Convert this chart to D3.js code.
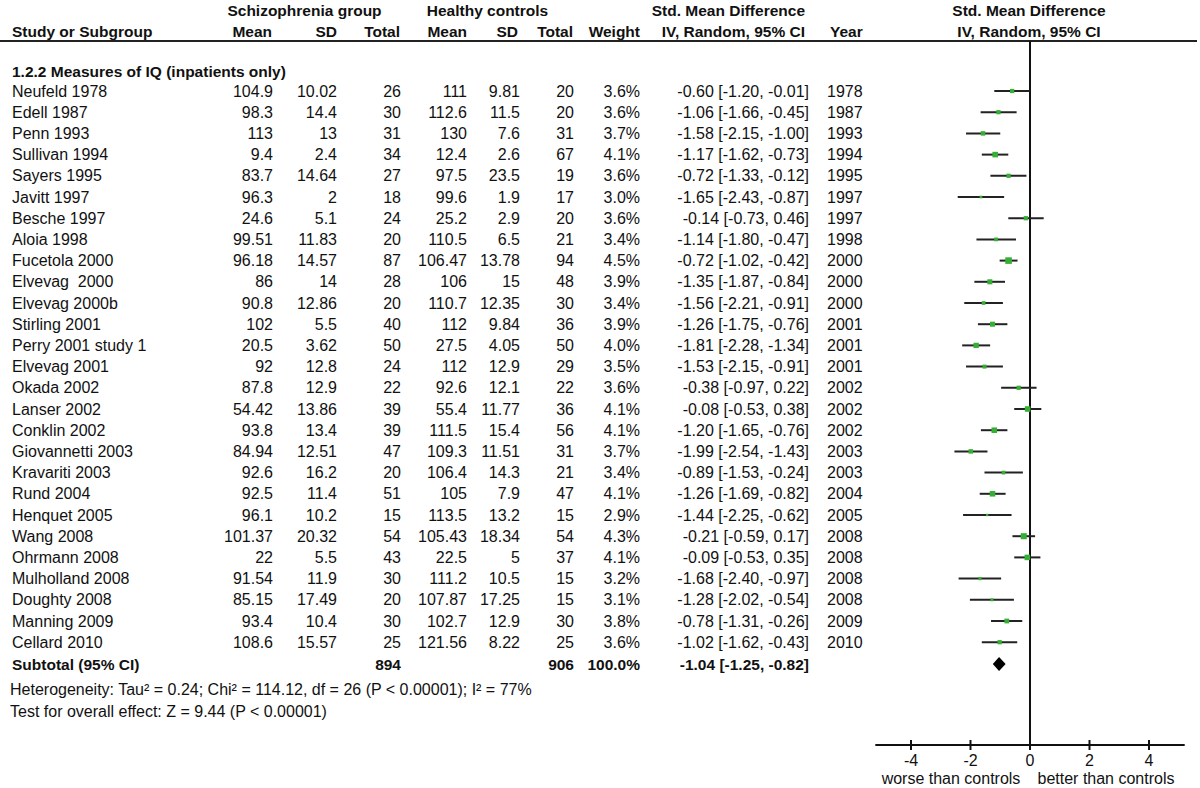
<!DOCTYPE html>
<html>
<head>
<meta charset="utf-8">
<script src="https://cdn.jsdelivr.net/npm/d3@7"></script>
<style>
  html, body { margin: 0; padding: 0; background: #fff; }
  svg { display: block; }
  text { font-family: "Liberation Sans", Arial, sans-serif; fill: #111; white-space: pre; }
  .b { font-weight: bold; }
</style>
</head>
<body>
<svg id="chart" width="1200" height="788"></svg>
<script>
// ---------------- data ----------------
const studies = ["Neufeld 1978","Edell 1987","Penn 1993","Sullivan 1994","Sayers 1995","Javitt 1997","Besche 1997","Aloia 1998","Fucetola 2000","Elvevag  2000","Elvevag 2000b","Stirling 2001","Perry 2001 study 1","Elvevag 2001","Okada 2002","Lanser 2002","Conklin 2002","Giovannetti 2003","Kravariti 2003","Rund 2004","Henquet 2005","Wang 2008","Ohrmann 2008","Mulholland 2008","Doughty 2008","Manning 2009","Cellard 2010"];
const years = [1978,1987,1993,1994,1995,1997,1997,1998,2000,2000,2000,2001,2001,2001,2002,2002,2002,2003,2003,2004,2005,2008,2008,2008,2008,2009,2010];
const szMean = [104.9,98.3,113,9.4,83.7,96.3,24.6,99.51,96.18,86,90.8,102,20.5,92,87.8,54.42,93.8,84.94,92.6,92.5,96.1,101.37,22,91.54,85.15,93.4,108.6];
const szSD = [10.02,14.4,13,2.4,14.64,2,5.1,11.83,14.57,14,12.86,5.5,3.62,12.8,12.9,13.86,13.4,12.51,16.2,11.4,10.2,20.32,5.5,11.9,17.49,10.4,15.57];
const szN = [26,30,31,34,27,18,24,20,87,28,20,40,50,24,22,39,39,47,20,51,15,54,43,30,20,30,25];
const hcMean = [111,112.6,130,12.4,97.5,99.6,25.2,110.5,106.47,106,110.7,112,27.5,112,92.6,55.4,111.5,109.3,106.4,105,113.5,105.43,22.5,111.2,107.87,102.7,121.56];
const hcSD = [9.81,11.5,7.6,2.6,23.5,1.9,2.9,6.5,13.78,15,12.35,9.84,4.05,12.9,12.1,11.77,15.4,11.51,14.3,7.9,13.2,18.34,5,10.5,17.25,12.9,8.22];
const hcN = [20,20,31,67,19,17,20,21,94,48,30,36,50,29,22,36,56,31,21,47,15,54,37,15,15,30,25];
const weights = [3.6,3.6,3.7,4.1,3.6,3.0,3.6,3.4,4.5,3.9,3.4,3.9,4.0,3.5,3.6,4.1,4.1,3.7,3.4,4.1,2.9,4.3,4.1,3.2,3.1,3.8,3.6];
const smd = [-0.60,-1.06,-1.58,-1.17,-0.72,-1.65,-0.14,-1.14,-0.72,-1.35,-1.56,-1.26,-1.81,-1.53,-0.38,-0.08,-1.20,-1.99,-0.89,-1.26,-1.44,-0.21,-0.09,-1.68,-1.28,-0.78,-1.02];
const ciLow = [-1.20,-1.66,-2.15,-1.62,-1.33,-2.43,-0.73,-1.80,-1.02,-1.87,-2.21,-1.75,-2.28,-2.15,-0.97,-0.53,-1.65,-2.54,-1.53,-1.69,-2.25,-0.59,-0.53,-2.40,-2.02,-1.31,-1.62];
const ciHigh = [-0.01,-0.45,-1.00,-0.73,-0.12,-0.87,0.46,-0.47,-0.42,-0.84,-0.91,-0.76,-1.34,-0.91,0.22,0.38,-0.76,-1.43,-0.24,-0.82,-0.62,0.17,0.35,-0.97,-0.54,-0.26,-0.43];
const subtotalLabels = ["Subtotal (95% CI)"];
const subtotalN = [894, 906];
const subtotalWeight = [100.0];
const pooled = [-1.04, -1.25, -0.82]; // estimate, low, high
const axisTicks = [-4, -2, 0, 2, 4];
const axisLabels = ["worse than controls", "better than controls"];
const groupTitle = "1.2.2 Measures of IQ (inpatients only)";
const heterogeneity = "Heterogeneity: Tau\u00B2 = 0.24; Chi\u00B2 = 114.12, df = 26 (P < 0.00001); I\u00B2 = 77%";
const overallTest = "Test for overall effect: Z = 9.44 (P < 0.00001)";

// ---------------- layout ----------------
const svg = d3.select("#chart");
svg.append("rect").attr("width", 1200).attr("height", 788).attr("fill", "#fff");

const rowY = d3.scaleLinear().domain([0, 1]).range([91, 112.2]);
const x = d3.scaleLinear().domain([-4, 4]).range([911, 1149]);
const sq = d3.scaleLinear().domain([2.9, 4.5]).range([2.4, 6.6]);
const fmt2 = d3.format(".2f");
const ciText = (e, l, h) => `${fmt2(e).replace("−","-")} [${fmt2(l).replace("−","-")}, ${fmt2(h).replace("−","-")}]`;

const cols = { name: 12, m1: 273, sd1: 337, n1: 401, m2: 467, sd2: 520, n2: 574, w: 640, ci: 809, yr: 827 };
const FS = 16, FSB = 15.5;

function t(xp, yp, str, anchor, bold, size) {
  return svg.append("text").attr("x", xp).attr("y", yp)
    .attr("text-anchor", anchor || "start")
    .attr("class", bold ? "b" : null)
    .style("font-size", (size || (bold ? FSB : FS)) + "px")
    .text(str);
}

// headers
t(304.5, 16, "Schizophrenia group", "middle", true);
t(487.5, 16, "Healthy controls", "middle", true);
t(805, 16, "Std. Mean Difference", "end", true);
t(1029, 16, "Std. Mean Difference", "middle", true);
t(12, 37, "Study or Subgroup", "start", true);
t(272, 37, "Mean", "end", true);
t(337, 37, "SD", "end", true);
t(400, 37, "Total", "end", true);
t(467, 37, "Mean", "end", true);
t(518, 37, "SD", "end", true);
t(573, 37, "Total", "end", true);
t(640, 37, "Weight", "end", true);
t(805, 37, "IV, Random, 95% CI", "end", true);
t(830, 37, "Year", "start", true);
t(1029, 37, "IV, Random, 95% CI", "middle", true);

svg.append("line").attr("x1", 0).attr("x2", 1197).attr("y1", 41).attr("y2", 41)
  .attr("stroke", "#222").attr("stroke-width", 2);

t(12, 76.5, groupTitle, "start", true);

// rows
studies.forEach((s, i) => {
  const yb = rowY(i) + 5.6;
  t(cols.name, yb, s, "start");
  t(cols.m1, yb, String(szMean[i]), "end");
  t(cols.sd1, yb, String(szSD[i]), "end");
  t(cols.n1, yb, String(szN[i]), "end");
  t(cols.m2, yb, String(hcMean[i]), "end");
  t(cols.sd2, yb, String(hcSD[i]), "end");
  t(cols.n2, yb, String(hcN[i]), "end");
  t(cols.w, yb, weights[i].toFixed(1) + "%", "end");
  t(cols.ci, yb, ciText(smd[i], ciLow[i], ciHigh[i]), "end");
  t(cols.yr, yb, String(years[i]), "start");
});

// subtotal row
const ySub = rowY(studies.length) + 0.5;
t(cols.name, ySub + 5.6, subtotalLabels[0], "start", true);
t(cols.n1, ySub + 5.6, String(subtotalN[0]), "end", true);
t(cols.n2, ySub + 5.6, String(subtotalN[1]), "end", true);
t(cols.w, ySub + 5.6, subtotalWeight[0].toFixed(1) + "%", "end", true);
t(cols.ci, ySub + 5.6, ciText(pooled[0], pooled[1], pooled[2]), "end", true);

t(10, 695, heterogeneity, "start", false, 16);
t(10, 717, overallTest, "start", false, 16);

// ---------------- plot ----------------
const axisY = 745;
svg.append("line").attr("x1", x(0)).attr("x2", x(0)).attr("y1", 41).attr("y2", axisY)
  .attr("stroke", "#111").attr("stroke-width", 2);

const plot = svg.append("g");
studies.forEach((s, i) => {
  const y = rowY(i);
  plot.append("line").attr("x1", x(ciLow[i])).attr("x2", x(ciHigh[i]))
    .attr("y1", y).attr("y2", y).attr("stroke", "#222").attr("stroke-width", 2);
  const side = sq(weights[i]);
  plot.append("rect").attr("x", x(smd[i]) - side / 2).attr("y", y - side / 2)
    .attr("width", side).attr("height", side).attr("fill", "#35b035");
});

// diamond
const dy = ySub;
plot.append("path")
  .attr("d", `M${x(pooled[1])},${dy} L${x(pooled[0])},${dy - 7} L${x(pooled[2])},${dy} L${x(pooled[0])},${dy + 7} Z`)
  .attr("fill", "#000");

// axis
const ax = svg.append("g");
ax.append("line").attr("x1", x(-5.2)).attr("x2", x(5.2)).attr("y1", axisY).attr("y2", axisY)
  .attr("stroke", "#111").attr("stroke-width", 2);
axisTicks.forEach(v => {
  ax.append("line").attr("x1", x(v)).attr("x2", x(v)).attr("y1", axisY - 5).attr("y2", axisY + 5)
    .attr("stroke", "#111").attr("stroke-width", 2);
  t(x(v), 766, String(v), "middle", false, 16);
});
t(951, 784, axisLabels[0], "middle", false, 16);
t(1106, 784, axisLabels[1], "middle", false, 16);
</script>
</body>
</html>
